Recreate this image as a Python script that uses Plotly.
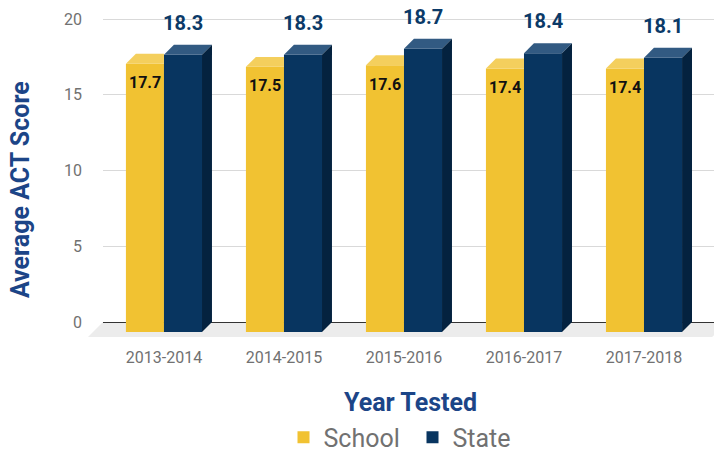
import plotly.graph_objects as go

# ---- data ----
categories = ["2013-2014", "2014-2015", "2015-2016", "2016-2017", "2017-2018"]
school = [17.7, 17.5, 17.6, 17.4, 17.4]
state = [18.3, 18.3, 18.7, 18.4, 18.1]
y_ticks = [0, 5, 10, 15, 20]

# ---- style constants ----
W = 0.317     # bar width (x units)
DX = 0.083    # 3D depth (x units)
DY = 0.66     # 3D depth (y units)
FLOOR = 0.99  # floor depth (y units)
PX_PER_UNIT = 15.15

YELLOW, YELLOW_TOP = "#f1c232", "#f4cf5d"
NAVY, NAVY_TOP, NAVY_SIDE = "#083560", "#325a82", "#04223f"
LABEL_NAVY = "#0b3a68"
TITLE_BLUE = "#1c4587"
GRAY = "#717171"
FONT = "Roboto"

xs = list(range(len(categories)))

fig = go.Figure()
fig.add_bar(x=xs, y=school, base=-DY, offset=-W, width=W, name="School",
            marker=dict(color=YELLOW, line=dict(width=0)), hoverinfo="skip")
fig.add_bar(x=xs, y=state, base=-DY, offset=0, width=W, name="State",
            marker=dict(color=NAVY, line=dict(width=0)), hoverinfo="skip")

shapes = []
# floor
shapes.append(dict(type="path", xref="paper", yref="y", layer="below",
                   path=f"M-0.0242,{-FLOOR} L0,0 L1.01,0 L0.984,{-FLOOR} Z",
                   fillcolor="#ececec", line=dict(width=0)))
annotations = []
for i, (s, t) in enumerate(zip(school, state)):
    # school top face (hidden behind state bar on the right)
    x0, x1 = i - W, i
    shapes.append(dict(type="path", xref="x", yref="y", layer="above",
                       path=f"M{x0},{s-DY} L{x1},{s-DY} L{x1},{s} L{x0+DX},{s} Z",
                       fillcolor=YELLOW_TOP, line=dict(width=0)))
    # state top & side faces
    x0, x1 = i, i + W
    shapes.append(dict(type="path", xref="x", yref="y", layer="above",
                       path=f"M{x0},{t-DY} L{x1},{t-DY} L{x1+DX},{t} L{x0+DX},{t} Z",
                       fillcolor=NAVY_TOP, line=dict(width=0)))
    shapes.append(dict(type="path", xref="x", yref="y", layer="above",
                       path=f"M{x1},{-DY} L{x1+DX},0 L{x1+DX},{t} L{x1},{t-DY} Z",
                       fillcolor=NAVY_SIDE, line=dict(width=0)))
    annotations.append(dict(x=i - W / 2, y=s - DY, xref="x", yref="y", yshift=-19,
                            text=f"<b>{s}</b>", showarrow=False,
                            font=dict(family=FONT, size=16, color="#111111")))
    annotations.append(dict(x=i + W / 2, y=t, xref="x", yref="y", yshift=22,
                            text=f"<b>{t}</b>", showarrow=False,
                            font=dict(family=FONT, size=20, color=LABEL_NAVY)))

annotations.append(dict(x=-0.134, y=0.455, xref="paper", yref="paper", textangle=-90,
                        text="<b>Average ACT Score</b>", showarrow=False,
                        xanchor="center", yanchor="middle",
                        font=dict(family=FONT, size=25, color=TITLE_BLUE)))
annotations.append(dict(x=0.496, y=-0.1826, xref="paper", yref="paper",
                        text="<b>Year Tested</b>", showarrow=False,
                        xanchor="center", yanchor="middle",
                        font=dict(family=FONT, size=25, color=TITLE_BLUE)))

# page body has an 8px default margin, so the figure is 8px smaller
fig.update_layout(
    width=714, height=442,
    margin=dict(l=95, r=0, t=0, b=108, autoexpand=False),
    paper_bgcolor="white", plot_bgcolor="white",
    barmode="overlay",
    shapes=shapes, annotations=annotations,
    font=dict(family=FONT),
    showlegend=True,
    legend=dict(orientation="h", x=0.5, xanchor="center", y=-0.286, yanchor="middle",
                entrywidth=84, entrywidthmode="pixels",
                font=dict(family=FONT, size=25, color=GRAY), traceorder="normal"),
    xaxis=dict(range=[-0.508, 4.65], tickvals=xs, ticktext=categories,
               showgrid=False, zeroline=False, showline=False, ticks="",
               automargin=False, ticklabelstandoff=4,
               tickfont=dict(family=FONT, size=16, color=GRAY)),
    yaxis=dict(range=[-20 / PX_PER_UNIT, 314 / PX_PER_UNIT], tickvals=y_ticks,
               showgrid=True, gridcolor="#d9d9d9", gridwidth=1,
               zeroline=True, zerolinecolor="#333333", zerolinewidth=1,
               showline=False, ticks="", ticklabelstandoff=20, automargin=False,
               tickfont=dict(family=FONT, size=16, color=GRAY)),
)

fig.write_html("out.html")
